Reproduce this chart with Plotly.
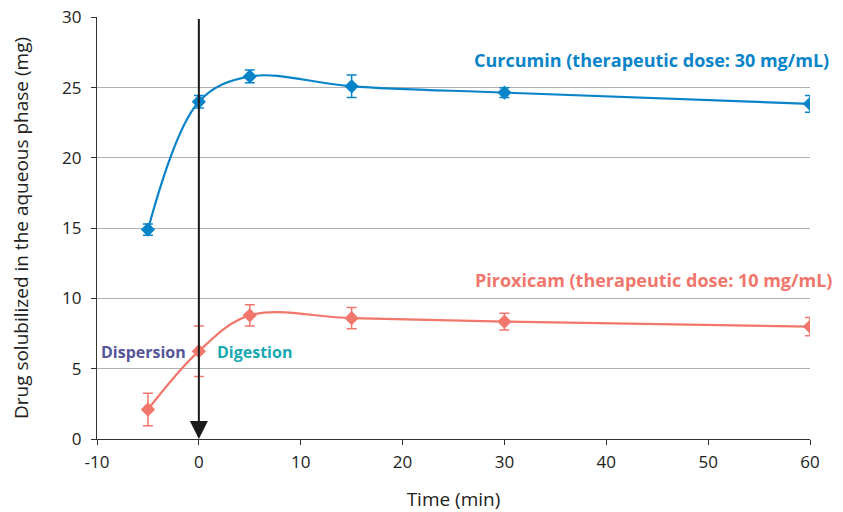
import plotly.graph_objects as go

time_min = [-5, 0, 5, 15, 30, 60]
curcumin = [14.9, 24.0, 25.8, 25.1, 24.65, 23.85]
curcumin_err = [0.4, 0.45, 0.45, 0.8, 0.35, 0.6]
piroxicam = [2.1, 6.25, 8.8, 8.6, 8.35, 8.0]
piroxicam_err = [1.15, 1.8, 0.75, 0.75, 0.6, 0.65]

x_ticks = [-10, 0, 10, 20, 30, 40, 50, 60]
x_tick_labels = [str(v) for v in x_ticks]
y_ticks = [0, 5, 10, 15, 20, 25, 30]

blue = "#0a84c9"
red = "#f1766b"
font = "Open Sans"

fig = go.Figure()
fig.add_trace(go.Scatter(
    x=time_min, y=curcumin, mode="lines+markers",
    line=dict(color=blue, width=2.2, shape="spline", smoothing=1.0),
    marker=dict(symbol="diamond", size=11, color=blue),
    error_y=dict(type="data", array=curcumin_err, color=blue, thickness=1.5, width=5),
    showlegend=False,
))
fig.add_trace(go.Scatter(
    x=time_min, y=piroxicam, mode="lines+markers",
    line=dict(color=red, width=2.2, shape="spline", smoothing=1.0),
    marker=dict(symbol="diamond", size=11, color=red),
    error_y=dict(type="data", array=piroxicam_err, color=red, thickness=1.5, width=5),
    showlegend=False,
))

# vertical arrow at t = 0
fig.add_annotation(x=0, y=0, ax=0, ay=30, xref="x", yref="y", axref="x", ayref="y",
                   showarrow=True, arrowhead=2, arrowsize=1.8, arrowwidth=2,
                   arrowcolor="#1a1a1a", text="")

fig.add_annotation(x=1.029, y=27.0, xref="paper", yref="y", xanchor="right", yanchor="middle",
                   text="<b>Curcumin (therapeutic dose: 30 mg/mL)</b>", showarrow=False,
                   font=dict(family=font, size=18, color=blue))
fig.add_annotation(x=1.033, y=11.35, xref="paper", yref="y", xanchor="right", yanchor="middle",
                   text="<b>Piroxicam (therapeutic dose: 10 mg/mL)</b>", showarrow=False,
                   font=dict(family=font, size=18, color=red))
fig.add_annotation(x=-1.1, y=6.2, xref="x", yref="y", xanchor="right", yanchor="middle",
                   text="<b>Dispersion</b>", showarrow=False,
                   font=dict(family=font, size=16, color="#55559a"))
fig.add_annotation(x=1.6, y=6.2, xref="x", yref="y", xanchor="left", yanchor="middle",
                   text="<b>Digestion</b>", showarrow=False,
                   font=dict(family=font, size=16, color="#16a9b1"))

fig.update_layout(
    width=843, height=512,
    margin=dict(l=97, r=33, t=17, b=73, autoexpand=False),
    paper_bgcolor="white", plot_bgcolor="white",
    font=dict(family=font, size=17, color="#222"),
    xaxis=dict(
        range=[-10, 60], tickvals=x_ticks, ticktext=x_tick_labels, ticks="outside", ticklen=5,
        tickcolor="#333", showline=True, linecolor="#333", linewidth=1.3, showgrid=False,
        zeroline=False, automargin=False, ticklabelstandoff=2,
        title=dict(text="Time (min)", font=dict(size=19), standoff=21),
    ),
    yaxis=dict(
        range=[0, 30.03], tickvals=y_ticks, ticks="outside", ticklen=5, tickcolor="#333",
        showline=True, linecolor="#333", linewidth=1.3, showgrid=True, gridcolor="#b0b0b0",
        gridwidth=1.2, zeroline=False, automargin=False, ticklabeloverflow="allow",
        ticklabelstandoff=6,
        title=dict(text="Drug solubilized in the aqueous phase (mg)", font=dict(size=19), standoff=28),
    ),
)

fig.write_html("out.html", config={"displayModeBar": False},
               post_script="document.body.style.margin='0';")
